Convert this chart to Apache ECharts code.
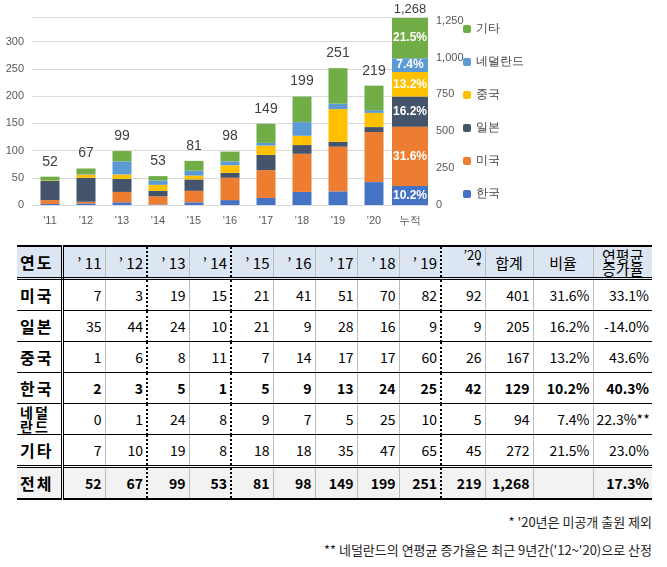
<!DOCTYPE html>
<html><head><meta charset="utf-8">
<script src="https://cdn.jsdelivr.net/npm/echarts@6/dist/echarts.min.js"></script>
<style>
body{margin:0;background:#fff;font-family:"Noto Sans CJK KR",sans-serif;}
#chart{position:absolute;left:0;top:0;width:667px;height:240px;}
#tbl{position:absolute;left:17px;top:245px;width:635px;border-collapse:collapse;font-size:14px;table-layout:fixed;}
#tbl td,#tbl th{height:30px;padding:0 3px;border-bottom:1px solid #000;text-align:right;font-weight:normal;}
#tbl th{background:#dce6f2;border-top:2px solid #000;border-bottom:3px double #000;font-size:15px;}
#tbl td.h,#tbl th.h{text-align:left;font-weight:bold;font-size:16px;border-right:3px double #000;letter-spacing:2px;}
#tbl .d{border-right:2px dotted #000;}
#tbl .s{border-right:1px solid #bbb;}
#tbl .b{font-weight:bold;}
#tbl tr.tot td{background:#f2f2f2;font-weight:bold;border-top:3px double #000;border-bottom:2px solid #000;}
.note{position:absolute;right:15px;font-size:13px;color:#222;}
</style></head><body>
<div id="chart"></div>
<table id="tbl"></table>
<div class="note" style="top:512px">* '20년은 미공개 출원 제외</div>
<div class="note" style="top:540px">** 네덜란드의 연평균 증가율은 최근 9년간('12~'20)으로 산정</div>
<script>
var years = ["'11","'12","'13","'14","'15","'16","'17","'18","'19","'20"];
var countries = ['한국','미국','일본','중국','네덜란드','기타'];
var colors = ['#4472c4','#ed7d31','#44546a','#ffc000','#5b9bd5','#70ad47'];
var korea = [2,3,5,1,5,9,13,24,25,42];
var usa = [7,3,19,15,21,41,51,70,82,92];
var japan = [35,44,24,10,21,9,28,16,9,9];
var china = [1,6,8,11,7,14,17,17,60,26];
var nether = [0,1,24,8,9,7,5,25,10,5];
var etc = [7,10,19,8,18,18,35,47,65,45];
var totals = [52,67,99,53,81,98,149,199,251,219];
var sums = [129,401,205,167,94,272];
var shares = ['10.2%','31.6%','16.2%','13.2%','7.4%','21.5%'];
var grand = '1,268';
var growth = ['40.3%','33.1%','-14.0%','43.6%','22.3%**','23.0%'];
var totalGrowth = '17.3%';

var yearData = [korea,usa,japan,china,nether,etc];
var cats = years.concat(['누적']);
var series = [];
countries.forEach(function(name,i){
	series.push({
		name:name,type:'bar',stack:'y',xAxisIndex:0,yAxisIndex:0,barWidth:19,
		itemStyle:{color:colors[i]},
		data:yearData[i].concat([null]),
		label:i==5?{show:true,position:'top',color:'#404040',fontSize:14,distance:8,
			formatter:function(p){return totals[p.dataIndex];}}:{show:false}
	});
});
countries.forEach(function(name,i){
	var d = years.map(function(){return null;}); d.push(sums[i]);
	series.push({
		name:name,type:'bar',stack:'c',xAxisIndex:1,yAxisIndex:1,barWidth:36,
		itemStyle:{color:colors[i]},data:d,
		label:{show:true,position:'inside',color:'#fff',fontWeight:'bold',fontSize:12,
			formatter:function(){return shares[i];}}
	});
});
series.push({type:'bar',stack:'c',xAxisIndex:1,yAxisIndex:1,barWidth:36,silent:true,
	itemStyle:{color:'transparent'},data:years.map(function(){return null;}).concat([0]),
	label:{show:true,position:'top',color:'#404040',fontSize:13,distance:2,formatter:grand}});

var chart = echarts.init(document.getElementById('chart'));
chart.setOption({
	animation:false,
	grid:{left:32,right:239,top:17,bottom:35},
	legend:{data:['기타','네덜란드','중국','일본','미국','한국'],orient:'vertical',left:458,top:18,
		itemWidth:8,itemHeight:8,itemGap:21,textStyle:{color:'#404040',fontSize:12}},
	xAxis:[
		{type:'category',data:cats,axisTick:{show:false},axisLine:{lineStyle:{color:'#d9d9d9'}},
			axisLabel:{color:'#595959',fontSize:11,margin:10}},
		{type:'category',data:cats,show:false}
	],
	yAxis:[
		{type:'value',min:0,max:345,interval:50,axisLabel:{color:'#595959',fontSize:11,showMaxLabel:false},
			splitLine:{lineStyle:{color:'#d9d9d9'}}},
		{type:'value',min:0,max:1275,interval:250,axisLabel:{color:'#595959',fontSize:11,showMaxLabel:false,
			formatter:function(v){return v.toLocaleString('en-US');}},splitLine:{show:false}}
	],
	series:series
});

// table
var rows = [usa,japan,china,korea,nether,etc];
var rowNames = ['미국','일본','중국','한국','네덜<br>란드','기타'];
var rowIdx = [1,2,3,0,4,5];
var widths = [45,43,42,42,42,42,42,42,42,42,44,48,60,59];
var cls = function(j){return (j==1||j==3||j==8)?'d':'s';};
var html = '<colgroup>'+widths.map(function(w){return '<col style="width:'+w+'px">';}).join('')+'</colgroup>';
html += '<tr><th class="h">연도</th>';
years.forEach(function(y,j){
	var t = j==9 ? '<span style="font-size:13px;line-height:12px;display:inline-block;text-align:right">’20<br>*</span>' : '’ '+y.slice(1);
	html += '<th class="'+cls(j)+'">'+t+'</th>';
});
html += '<th class="s" style="text-align:center">합계</th><th class="s" style="text-align:center">비율</th><th style="text-align:center;line-height:13px">연평균<br>증가율</th></tr>';
rows.forEach(function(r,k){
	var i = rowIdx[k], b = i==0 ? ' b' : '';
	html += '<tr><td class="h"'+(k==4?' style="font-size:14px;line-height:14px"':'')+'>'+rowNames[k]+'</td>';
	r.forEach(function(v,j){html += '<td class="'+cls(j)+b+'">'+v+'</td>';});
	html += '<td class="s'+b+'">'+sums[i]+'</td><td class="s'+b+'">'+shares[i]+'</td><td class="'+b+'">'+growth[i]+'</td></tr>';
});
html += '<tr class="tot"><td class="h">전체</td>';
totals.forEach(function(v,j){html += '<td class="'+cls(j)+'">'+v+'</td>';});
html += '<td class="s">'+grand+'</td><td class="s"></td><td>'+totalGrowth+'</td></tr>';
document.getElementById('tbl').innerHTML = html;
</script>
</body></html>
